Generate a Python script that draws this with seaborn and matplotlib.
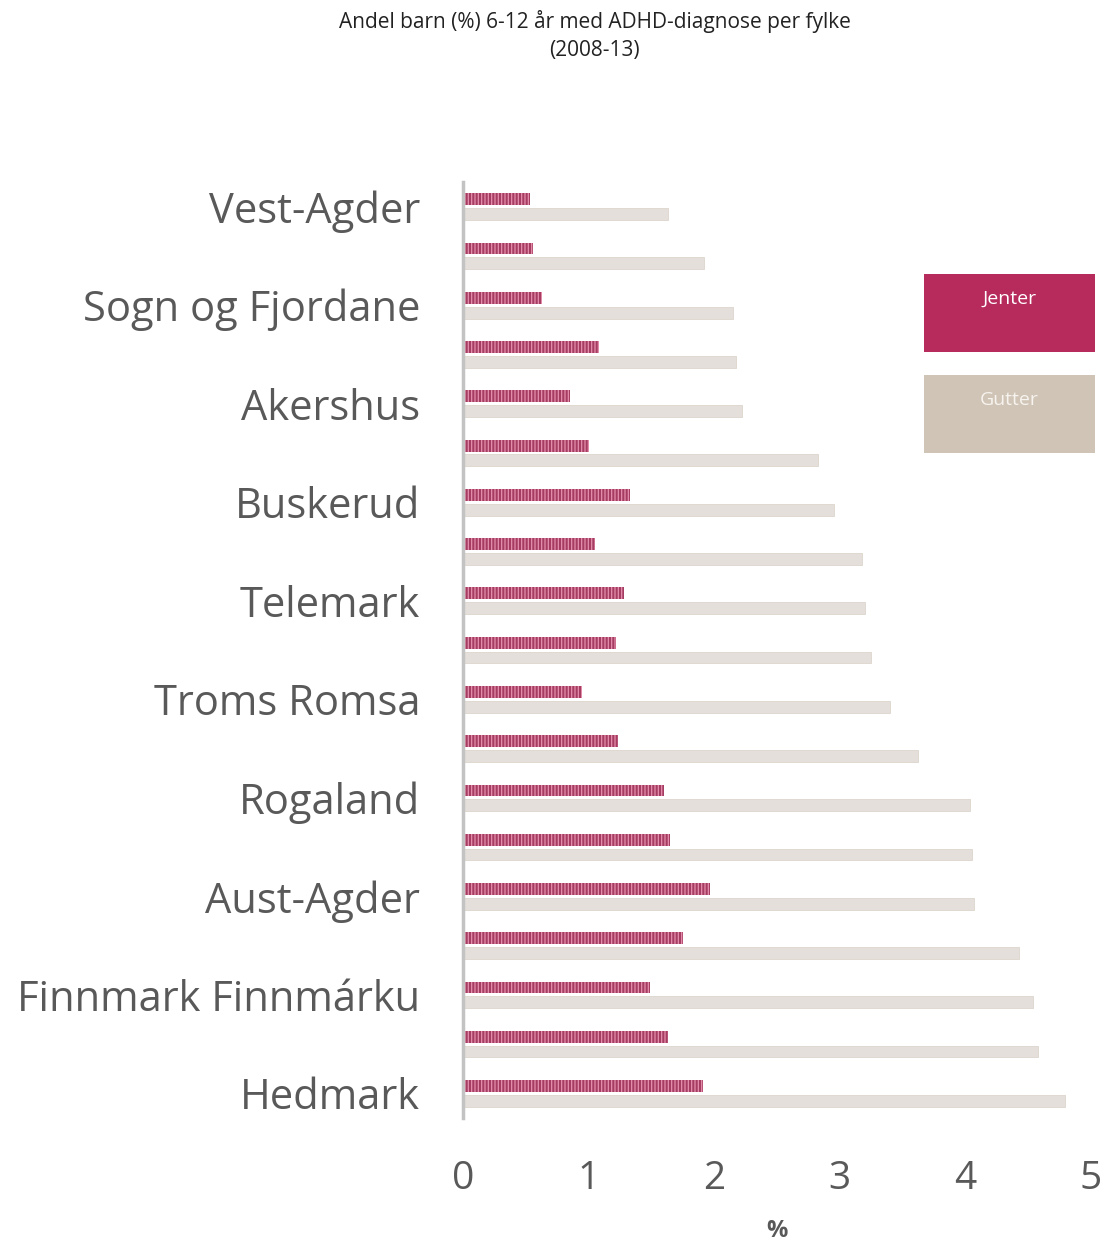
import matplotlib
matplotlib.use('Agg')
import matplotlib.pyplot as plt
from matplotlib.patches import Rectangle
import seaborn as sns
import pandas as pd

# fylker, sortert etter andel gutter
fylker = ['Vest-Agder', 'Oslo', 'Sogn og Fjordane', 'Hordaland', 'Akershus',
          'Møre og Romsdal', 'Buskerud', 'Sør-Trøndelag', 'Telemark', 'Oppland',
          'Troms Romsa', 'Vestfold', 'Rogaland', 'Nord-Trøndelag', 'Aust-Agder',
          'Østfold', 'Finnmark Finnmárku', 'Nordland', 'Hedmark']
jenter = [0.53, 0.56, 0.63, 1.08, 0.85, 1.00, 1.33, 1.05, 1.28, 1.22,
          0.95, 1.23, 1.60, 1.65, 1.97, 1.75, 1.49, 1.63, 1.91]
gutter = [1.63, 1.92, 2.15, 2.17, 2.22, 2.83, 2.95, 3.18, 3.20, 3.25,
          3.40, 3.62, 4.04, 4.05, 4.07, 4.43, 4.54, 4.58, 4.79]

JENTER_COL = '#b72a5c'
GUTTER_COL = '#e6dfd8'
TEXT_COL = '#595959'

df = pd.DataFrame({
    'fylke': fylker * 2,
    'kjonn': ['Jenter'] * len(fylker) + ['Gutter'] * len(fylker),
    'andel': jenter + gutter,
})

sns.set_style('white')
plt.rcParams['font.family'] = ['Open Sans', 'DejaVu Sans']
plt.rcParams['hatch.linewidth'] = 0.9

fig = plt.figure(figsize=(11.07, 12.41), dpi=100)
ax = fig.add_axes([0.4183, 0.0991, 0.5672, 0.7542])

sns.barplot(data=df, x='andel', y='fylke', hue='kjonn', order=fylker,
            hue_order=['Jenter', 'Gutter'],
            palette={'Jenter': JENTER_COL, 'Gutter': GUTTER_COL},
            width=0.6, gap=0.2, errorbar=None, legend=False, ax=ax)

for bar in ax.containers[0]:
    bar.set_hatch('|||||')
    bar.set_edgecolor('#e690ad')
    bar.set_linewidth(0)
for bar in ax.containers[1]:
    bar.set_edgecolor('#ddd5cc')
    bar.set_linewidth(0.6)

ax.set_xlim(0, 5)
ax.set_ylim(18.5, -0.5)
ax.set_yticks(range(0, len(fylker), 2))
ax.set_yticklabels(fylker[::2])
ax.set_xticks(range(0, 6))
ax.tick_params(axis='y', length=0, pad=31, labelsize=30, labelcolor=TEXT_COL)
ax.tick_params(axis='x', length=0, pad=30, labelsize=28, labelcolor=TEXT_COL)
for s in ['top', 'right', 'bottom']:
    ax.spines[s].set_visible(False)
ax.spines['left'].set_color('#c3c3c3')
ax.spines['left'].set_linewidth(2.5)
ax.set_ylabel('')
ax.set_xlabel('%', fontsize=17, fontweight='bold', color=TEXT_COL)
ax.xaxis.set_label_coords(0.5, -0.108)

fig.text(0.537, 0.992, 'Andel barn (%) 6-12 år med ADHD-diagnose per fylke\n(2008-13)',
         ha='center', va='top', fontsize=15, color='#222222', linespacing=1.45)

# legend boxes
for ybot, col, lab, tcol in [(0.7164, JENTER_COL, 'Jenter', 'white'),
                             (0.6350, '#cfc4b6', 'Gutter', '#f7f3ee')]:
    fig.add_artist(Rectangle((0.8347, ybot), 0.1545, 0.0629,
                             transform=fig.transFigure, color=col, lw=0))
    fig.text(0.8347 + 0.1545 / 2, ybot + 0.0629 - 0.02, lab, ha='center',
             va='center', fontsize=14, color=tcol)

fig.savefig('out.png', dpi=100)
